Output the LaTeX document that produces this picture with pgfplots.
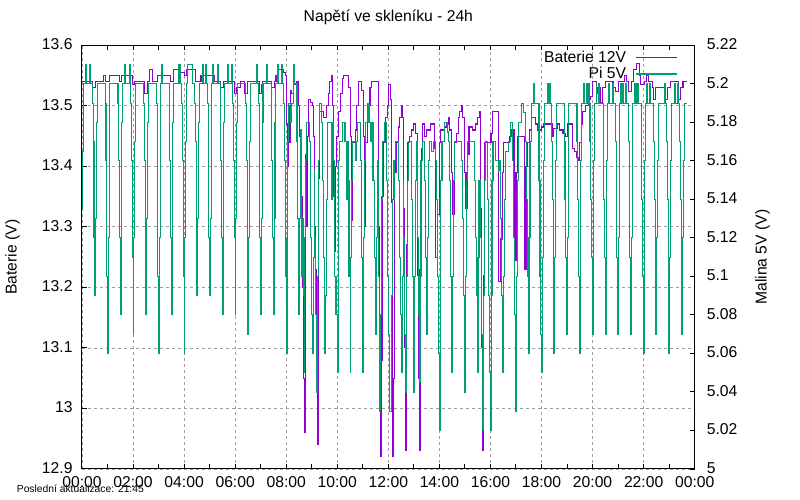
\documentclass[border=0pt]{standalone}
\usepackage{fontspec}
\setmainfont{Liberation Sans}
\usepackage{pgfplots}
\pgfplotsset{compat=1.18}
\definecolor{batcol}{HTML}{9400D3}
\definecolor{picol}{HTML}{009E73}
\definecolor{gridcol}{HTML}{A0A0A0}
\newcommand{\fs}{\fontsize{15.7bp}{18bp}\selectfont}
\newcommand{\fss}{\fontsize{10.3bp}{12bp}\selectfont}
\pgfplotsset{
 common/.style={
  scale only axis, width=612.7bp, height=423.7bp,
  xmin=0, xmax=24,
  tick align=inside,
  major tick length=5bp, minor tick length=4.5bp,
  tick style={black, line width=1bp},
  axis line style={line width=1bp},
  /pgf/number format/assume math mode=true,
  tick label style={font=\fs},
  label style={font=\fs},
 }
}
\begin{document}
\begin{tikzpicture}
\path[use as bounding box] (-82bp,-31bp) rectangle (718bp,469bp);
\begin{axis}[common,
  ymin=12.9, ymax=13.6,
  ytick={12.9,13,13.1,13.2,13.3,13.4,13.5,13.6},
  ytick pos=left,
  xtick={0,2,...,24},
  xticklabels={00:00,02:00,04:00,06:00,08:00,10:00,12:00,14:00,16:00,18:00,20:00,22:00,00:00},
  minor x tick num=1,
  xmajorgrids, ymajorgrids,
  grid style={gridcol, line width=0.8bp, dash pattern=on 3bp off 3bp},
  xticklabel style={anchor=north, inner sep=0pt, yshift=-7.7bp},
  yticklabel style={anchor=east, inner sep=0pt, xshift=-9.3bp, yshift=1bp},
  ylabel={Baterie (V)},
  ylabel style={at={(axis description cs:-0.1066,0.5)}, anchor=base, inner sep=0pt},
  title={Napětí ve skleníku - 24h},
  title style={at={(axis description cs:0.5,1.0425)}, anchor=base, inner sep=0pt, font=\fs},
]
\addplot[const plot, batcol, line width=1.1bp] coordinates {
(0,13.54) (0.42,13.53) (0.52,13.54) (0.84,13.55) (0.92,13.54) (1.08,13.55) (1.46,13.54) (1.53,13.55) (1.98,13.535) (2.04,13.54) (2.46,13.52) (2.56,13.54) (2.66,13.56) (2.76,13.54) (2.94,13.55) (3.48,13.54) (3.6,13.56) (3.8,13.555) (4.0,13.55) (4.08,13.56) (4.46,13.54) (4.66,13.55) (5.2,13.54) (5.44,13.53) (5.55,13.54) (5.96,13.52) (6.04,13.53) (6.2,13.54) (6.36,13.52) (6.5,13.54) (6.96,13.52) (7.02,13.535) (7.08,13.54) (7.42,13.53) (7.54,13.54) (7.6,13.55) (7.66,13.56) (7.9,13.555) (7.96,13.55)
(8.0,13.55) (8.02,13.47) (8.05,13.40) (8.08,13.50) (8.12,13.44) (8.15,13.525) (8.22,13.52) (8.28,13.535) (8.4,13.54) (8.46,13.5) (8.52,13.45) (8.56,13.40) (8.6,13.35) (8.64,13.2) (8.68,13.05) (8.71,12.96) (8.74,13.1) (8.77,13.42) (8.8,13.3) (8.83,13.45) (8.88,13.51) (8.95,13.505) (9.02,13.5) (9.07,13.45) (9.1,13.3) (9.14,13.23) (9.17,13.15) (9.2,13.06) (9.22,12.94) (9.25,13.1) (9.28,13.38) (9.32,13.49) (9.46,13.48) (9.58,13.5) (9.64,13.52) (9.7,13.54) (9.76,13.55) (9.82,13.5) (9.86,13.35) (9.89,13.26) (9.93,13.4) (9.97,13.45) (10.03,13.49) (10.12,13.52) (10.2,13.545) (10.26,13.55) (10.45,13.53) (10.52,13.45) (10.56,13.31) (10.6,13.44) (10.7,13.46) (10.76,13.5) (10.82,13.54) (10.96,13.525) (11.04,13.45) (11.08,13.3) (11.12,13.44) (11.2,13.5) (11.28,13.53) (11.35,13.54) (11.58,13.54) (11.62,13.3) (11.65,13.1) (11.68,12.92) (11.72,13.08) (11.75,13.35) (11.8,13.44) (11.88,13.48) (11.95,13.5) (12.02,13.535) (12.08,13.51) (12.12,13.34) (12.15,13.1) (12.18,12.92) (12.21,13.05)
(12.24,13.39) (12.3,13.44) (12.38,13.465) (12.45,13.48) (12.52,13.5) (12.57,13.48) (12.6,13.33) (12.64,13.1) (12.67,12.93) (12.71,13.27) (12.76,13.44) (12.84,13.45) (12.92,13.46) (13.0,13.47) (13.08,13.455) (13.14,13.22) (13.18,13.05) (13.21,12.93) (13.24,13.23) (13.29,13.43) (13.35,13.47) (13.42,13.45) (13.5,13.46) (13.66,13.47) (13.82,13.43) (13.86,13.25) (13.92,13.32) (14.0,13.44) (14.06,13.46) (14.2,13.465) (14.28,13.47) (14.34,13.48) (14.4,13.46) (14.46,13.39) (14.52,13.32) (14.58,13.44) (14.66,13.455) (14.74,13.48) (14.8,13.49) (14.86,13.5) (14.92,13.48) (14.98,13.39) (15.04,13.33) (15.1,13.42) (15.16,13.465) (15.3,13.46) (15.4,13.47) (15.5,13.48) (15.56,13.49) (15.62,13.33) (15.66,13.1) (15.69,12.93) (15.73,13.22) (15.78,13.44) (16.02,13.455) (16.08,13.49) (16.3,13.3) (16.33,13.21) (16.38,13.28) (16.46,13.39) (16.52,13.44) (16.74,13.45) (16.84,13.46) (16.92,13.4) (16.95,13.245) (17.0,13.39) (17.06,13.45) (17.32,13.35) (17.35,13.23) (17.39,13.4) (17.45,13.44) (17.52,13.46) (17.6,13.48) (17.78,13.47) (17.86,13.46) (18.0,13.465)
(18.07,13.47) (18.42,13.45) (18.48,13.463) (18.64,13.47) (18.72,13.46) (18.84,13.455) (18.92,13.45) (19.0,13.47) (19.2,13.43) (19.3,13.425) (19.38,13.415) (19.44,13.41) (19.5,13.44) (19.56,13.47) (19.62,13.49) (19.72,13.5) (19.84,13.51) (19.92,13.515) (20.0,13.54) (20.14,13.52) (20.2,13.53) (20.32,13.505) (20.4,13.53) (20.5,13.54) (20.8,13.53) (20.9,13.524) (21.0,13.54) (21.24,13.55) (21.32,13.54) (21.42,13.524) (21.52,13.54) (21.62,13.56) (21.72,13.57) (21.82,13.55) (21.88,13.535) (22.02,13.54) (22.12,13.55) (22.2,13.54) (22.34,13.53) (22.4,13.51) (22.46,13.53) (22.86,13.51) (22.92,13.53) (23.04,13.54) (23.36,13.51) (23.44,13.53) (23.54,13.54) (23.68,13.54)
};
\end{axis}
\node[anchor=base west, inner sep=0pt, font=\fss] at (-65.3bp,-23.5bp) {Poslední aktualizace: 21:45};
\begin{axis}[common,
  ymin=5, ymax=5.22,
  axis y line*=right, hide x axis,
  ytick={5,5.02,5.04,5.06,5.08,5.1,5.12,5.14,5.16,5.18,5.2,5.22},
  yticklabel style={anchor=west, inner sep=0pt, xshift=12bp, yshift=1bp},
  ylabel={Malina 5V (V)},
  ylabel style={at={(axis description cs:1.1172,0.5)}, anchor=base, inner sep=0pt},
  legend plot pos=right,
  legend cell align=right,
  legend style={draw=none, fill=none, at={(axis description cs:0.9719,0.9861)}, anchor=north east, inner sep=0pt, font=\fs, row sep=3.3bp, column sep=9bp, nodes={inner sep=0pt}},
  legend image code/.code={\draw[#1, line width=1.1bp] (0bp,0bp) -- (41bp,0bp); \path (0bp,2.9bp);},
]
\addlegendimage{batcol, line width=1.1bp}
\addlegendentry{Baterie 12V}
\addplot[const plot, picol, line width=1.1bp] coordinates {
(0,5.135) (0.03,5.165) (0.05,5.19) (0.07,5.2) (0.12,5.21) (0.16,5.2) (0.28,5.21) (0.33,5.2)
(0.41,5.19) (0.44,5.17) (0.47,5.12) (0.5,5.09) (0.53,5.13) (0.56,5.18) (0.59,5.2)
(0.91,5.19) (0.94,5.16) (0.97,5.10) (1.0,5.06) (1.03,5.12) (1.06,5.17) (1.09,5.2)
(1.41,5.19) (1.44,5.16) (1.47,5.12) (1.5,5.08) (1.53,5.13) (1.56,5.18) (1.59,5.2)
(1.66,5.21) (1.7,5.2) (1.86,5.21) (1.89,5.2)
(1.91,5.19) (1.94,5.16) (1.97,5.11) (2.0,5.07) (2.03,5.12) (2.06,5.17) (2.09,5.2)
(2.41,5.19) (2.44,5.16) (2.47,5.12) (2.5,5.08) (2.53,5.13) (2.56,5.18) (2.59,5.2)
(2.91,5.19) (2.94,5.16) (2.97,5.10) (3.0,5.06) (3.03,5.12) (3.06,5.17) (3.09,5.2) (3.11,5.21) (3.15,5.2)
(3.41,5.19) (3.44,5.16) (3.47,5.12) (3.5,5.08) (3.53,5.13) (3.56,5.18) (3.59,5.2)
(3.8,5.21) (3.85,5.2)
(3.91,5.19) (3.94,5.16) (3.97,5.10) (4.0,5.06) (4.03,5.12) (4.06,5.17) (4.09,5.2) (4.14,5.21) (4.32,5.2)
(4.41,5.19) (4.44,5.17) (4.47,5.12) (4.5,5.09) (4.53,5.13) (4.56,5.18) (4.59,5.2)
(4.72,5.21) (4.76,5.2) (4.85,5.21) (4.88,5.2)
(4.91,5.19) (4.94,5.17) (4.97,5.12) (5.0,5.09) (5.03,5.13) (5.06,5.18) (5.09,5.2)
(5.12,5.21) (5.15,5.2) (5.31,5.21) (5.35,5.2)
(5.41,5.19) (5.44,5.16) (5.47,5.12) (5.5,5.08) (5.53,5.13) (5.56,5.18) (5.59,5.2)
(5.7,5.21) (5.74,5.2) (5.86,5.21) (5.89,5.2)
(5.91,5.19) (5.94,5.16) (5.97,5.12) (6.0,5.08) (6.03,5.13) (6.06,5.18) (6.09,5.2)
(6.41,5.19) (6.44,5.16) (6.47,5.11) (6.5,5.07) (6.53,5.12) (6.56,5.17) (6.59,5.2)
(6.84,5.21) (6.88,5.2)
(6.91,5.19) (6.94,5.16) (6.97,5.12) (7.0,5.08) (7.03,5.13) (7.06,5.18) (7.09,5.2)
(7.22,5.21) (7.26,5.2)
(7.41,5.19) (7.44,5.16) (7.47,5.12) (7.5,5.08) (7.53,5.13) (7.56,5.18) (7.59,5.2)
(7.66,5.21) (7.7,5.2) (7.82,5.21) (7.86,5.2)
(7.91,5.19) (7.94,5.16) (7.97,5.10) (8.0,5.06) (8.03,5.12) (8.06,5.17) (8.09,5.19)
(8.16,5.18) (8.22,5.19) (8.3,5.21) (8.33,5.2)
(8.42,5.17) (8.45,5.13) (8.48,5.10) (8.5,5.08) (8.53,5.13) (8.56,5.176) (8.6,5.10) (8.63,5.13) (8.66,5.09) (8.7,5.05) (8.73,5.12) (8.76,5.16) (8.79,5.18)
(8.92,5.17) (8.96,5.12) (9.0,5.08) (9.03,5.06) (9.06,5.11) (9.09,5.155) (9.12,5.12) (9.16,5.08) (9.2,5.04) (9.23,5.1) (9.26,5.16) (9.3,5.19) (9.38,5.18)
(9.42,5.15) (9.46,5.11) (9.5,5.06) (9.53,5.09) (9.56,5.14) (9.6,5.18) (9.7,5.18) (9.76,5.14) (9.8,5.18) (9.86,5.16) (9.9,5.10) (9.95,5.08) (10.0,5.05) (10.03,5.11) (10.06,5.16) (10.1,5.17) (10.2,5.18) (10.3,5.17) (10.36,5.14) (10.4,5.17)
(10.42,5.15) (10.46,5.10) (10.5,5.05) (10.53,5.11) (10.56,5.15) (10.6,5.17) (10.7,5.16) (10.74,5.17) (10.8,5.18)
(10.92,5.16) (10.96,5.11) (11.0,5.05) (11.04,5.12) (11.07,5.16) (11.1,5.18) (11.2,5.19) (11.24,5.18) (11.3,5.17) (11.34,5.18)
(11.4,5.15) (11.44,5.11) (11.48,5.07) (11.52,5.12) (11.56,5.16) (11.6,5.1) (11.64,5.06) (11.67,5.03) (11.7,5.08) (11.73,5.14) (11.76,5.17) (11.86,5.18)
(11.94,5.15) (11.98,5.10) (12.02,5.07) (12.06,5.03) (12.1,5.03) (12.14,5.09) (12.18,5.14) (12.22,5.16) (12.28,5.17)
(12.36,5.17) (12.4,5.15) (12.44,5.11) (12.48,5.08) (12.52,5.05) (12.55,5.10) (12.58,5.15) (12.61,5.12) (12.65,5.07) (12.69,5.04) (12.72,5.10) (12.76,5.15) (12.8,5.17) (12.9,5.17)
(12.92,5.14) (12.96,5.10) (13.0,5.04) (13.03,5.10) (13.06,5.15) (13.1,5.17) (13.14,5.12) (13.18,5.08) (13.21,5.045) (13.24,5.10) (13.28,5.16) (13.32,5.17) (13.4,5.17)
(13.42,5.15) (13.46,5.11) (13.5,5.07) (13.53,5.12) (13.56,5.16) (13.6,5.17) (13.7,5.165) (13.76,5.17) (13.86,5.16)
(13.9,5.14) (13.94,5.10) (13.97,5.06) (14.0,5.02) (14.03,5.09) (14.06,5.15) (14.1,5.17) (14.2,5.18) (14.3,5.175) (14.36,5.17)
(14.4,5.15) (14.44,5.10) (14.48,5.05) (14.51,5.10) (14.54,5.15) (14.58,5.17) (14.7,5.17) (14.8,5.17) (14.86,5.16)
(14.9,5.13) (14.94,5.09) (15.0,5.04) (15.03,5.10) (15.06,5.15) (15.1,5.17) (15.3,5.17) (15.38,5.15)
(15.41,5.12) (15.44,5.09) (15.48,5.05) (15.51,5.11) (15.55,5.15) (15.6,5.12) (15.64,5.07) (15.69,5.02) (15.72,5.09) (15.76,5.15) (15.8,5.17) (15.86,5.17)
(15.9,5.14) (15.94,5.09) (15.97,5.05) (16.0,5.02) (16.03,5.09) (16.06,5.15) (16.1,5.17) (16.2,5.16) (16.3,5.155) (16.36,5.16)
(16.4,5.13) (16.44,5.09) (16.47,5.05) (16.5,5.10) (16.54,5.14) (16.58,5.165) (16.7,5.17) (16.8,5.18) (16.88,5.16)
(16.91,5.12) (16.95,5.08) (17.0,5.03) (17.03,5.10) (17.06,5.15) (17.1,5.18) (17.2,5.19) (17.3,5.185) (17.38,5.17)
(17.41,5.14) (17.44,5.10) (17.48,5.06) (17.51,5.12) (17.55,5.17) (17.6,5.19) (17.7,5.2) (17.74,5.19) (17.86,5.19)
(17.9,5.15) (17.94,5.10) (17.97,5.07) (18.0,5.05) (18.03,5.11) (18.06,5.16) (18.1,5.19)
(18.22,5.2) (18.26,5.19) (18.3,5.2) (18.34,5.19)
(18.40,5.17) (18.43,5.14) (18.46,5.10) (18.49,5.06) (18.52,5.11) (18.55,5.16) (18.58,5.19)
(18.89,5.17) (18.92,5.14) (18.95,5.11) (18.98,5.07) (19.01,5.12) (19.04,5.16) (19.07,5.19)
(19.39,5.17) (19.42,5.14) (19.45,5.10) (19.48,5.06) (19.51,5.11) (19.54,5.16) (19.57,5.19)
(19.65,5.2) (19.68,5.19) (19.75,5.2) (19.78,5.19) (19.84,5.2) (19.87,5.19)
(19.90,5.17) (19.93,5.14) (19.96,5.11) (19.99,5.07) (20.02,5.12) (20.05,5.16) (20.08,5.19)
(20.14,5.2) (20.17,5.19) (20.24,5.2) (20.27,5.19)
(20.41,5.17) (20.44,5.14) (20.47,5.11) (20.50,5.07) (20.53,5.12) (20.56,5.16) (20.59,5.19)
(20.64,5.2) (20.67,5.19) (20.78,5.2) (20.82,5.19)
(20.89,5.17) (20.92,5.14) (20.95,5.11) (20.98,5.07) (21.01,5.12) (21.04,5.16) (21.07,5.19)
(21.1,5.2) (21.13,5.19) (21.18,5.2) (21.21,5.19) (21.28,5.2) (21.31,5.19)
(21.40,5.17) (21.43,5.14) (21.46,5.11) (21.49,5.07) (21.52,5.12) (21.55,5.16) (21.58,5.19)
(21.64,5.2) (21.67,5.19) (21.74,5.2) (21.78,5.19)
(21.90,5.17) (21.93,5.14) (21.96,5.10) (21.99,5.06) (22.02,5.11) (22.05,5.16) (22.08,5.19)
(22.12,5.2) (22.15,5.19) (22.22,5.2) (22.25,5.19)
(22.39,5.17) (22.42,5.14) (22.45,5.11) (22.48,5.07) (22.51,5.12) (22.54,5.16) (22.57,5.19)
(22.8,5.2) (22.84,5.19)
(22.90,5.17) (22.93,5.14) (22.96,5.10) (22.99,5.06) (23.02,5.11) (23.05,5.16) (23.08,5.19)
(23.22,5.2) (23.25,5.19) (23.34,5.2) (23.37,5.19)
(23.41,5.17) (23.44,5.14) (23.47,5.11) (23.50,5.07) (23.53,5.12) (23.56,5.16) (23.59,5.19) (23.68,5.19)
};
\addlegendentry{Pi 5V}
\end{axis}
\end{tikzpicture}
\end{document}
